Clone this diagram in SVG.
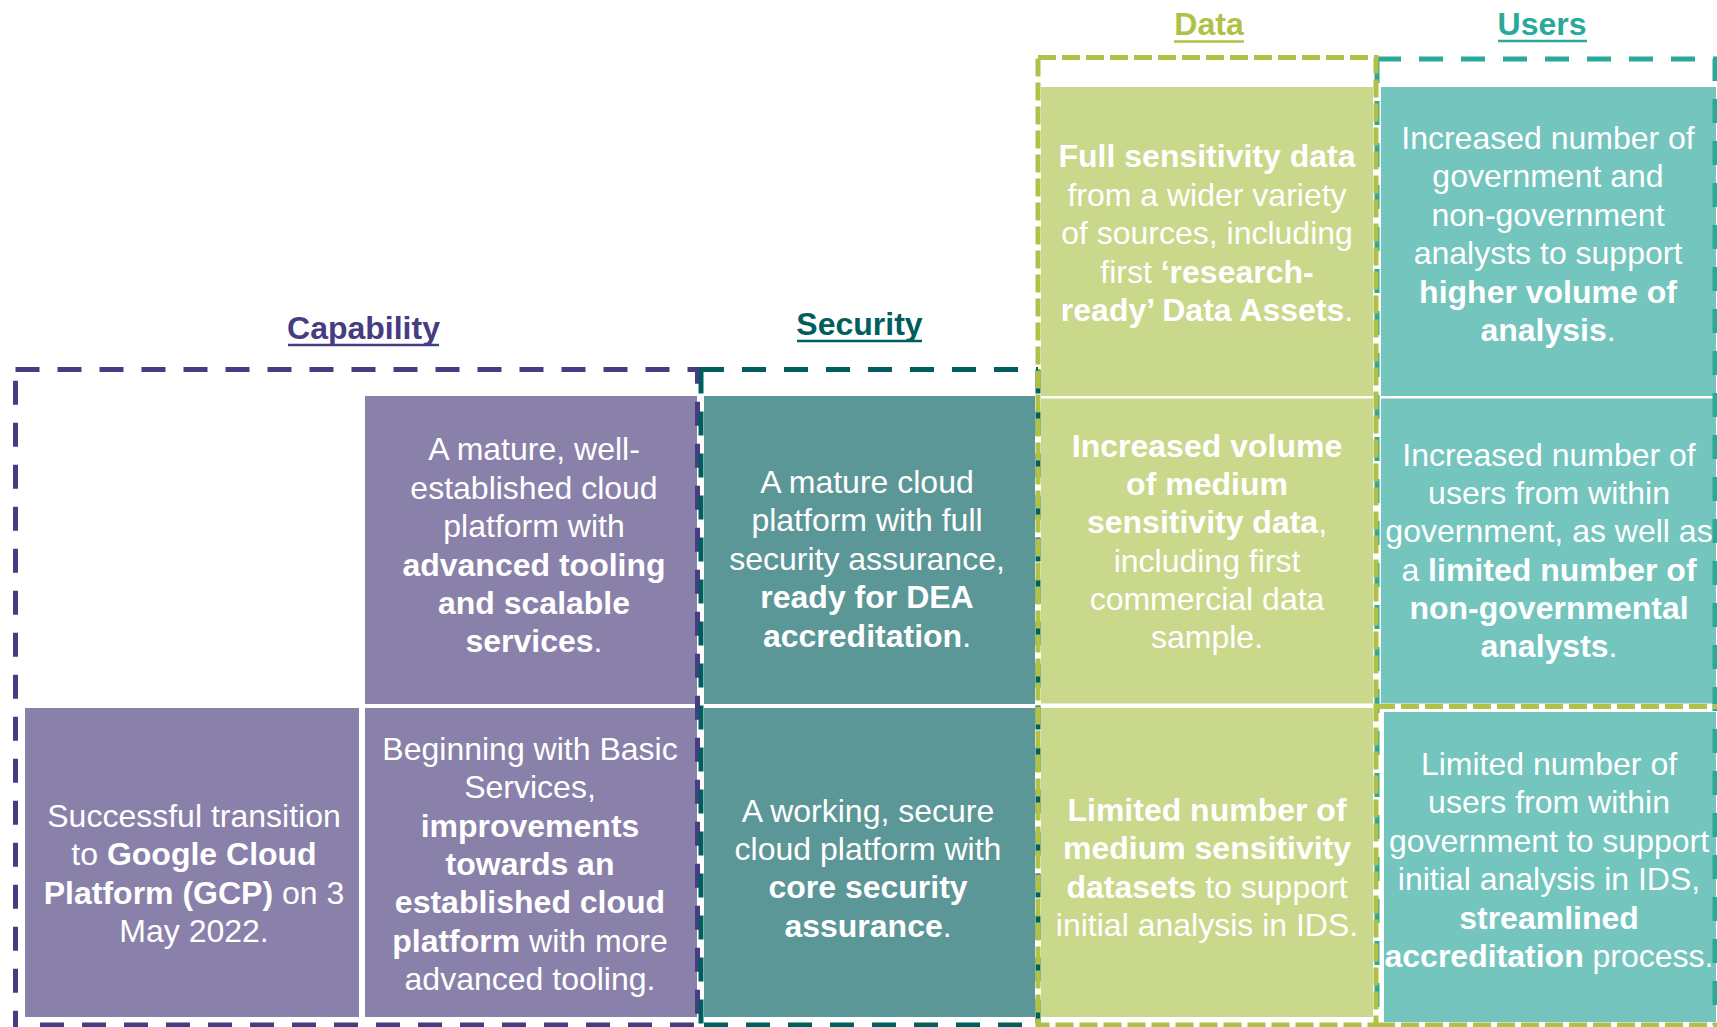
<svg xmlns="http://www.w3.org/2000/svg" width="1717" height="1027" viewBox="0 0 1717 1027">
<style>
  text { font-family: "Liberation Sans", Arial, sans-serif; font-size: 32px; fill: #ffffff; text-anchor: middle; }
  .b { font-weight: bold; }
  .title { font-weight: bold; font-size: 32px; }
  .cap { fill: #8A81AB; }
  .sec { fill: #5C9797; }
  .dat { fill: #CAD88C; }
  .usr { fill: #74C5BE; }
  .dash { fill: none; stroke-width: 5; }
  .dp { stroke: #463C82; stroke-dasharray: 24 18; }
  .ds { stroke: #005E5E; stroke-dasharray: 24 18; }
  .dd { stroke: #AFC146; stroke-dasharray: 18 6; }
  .du { stroke: #2AA89A; stroke-dasharray: 24 18; }
</style>
<rect width="1717" height="1027" fill="#ffffff"/>

<!-- Titles -->
<g id="title-capability">
  <text x="363.5" y="339" class="title" style="fill:#463C82">Capability</text>
  <line x1="288" y1="345" x2="439" y2="345" stroke="#463C82" stroke-width="2.5"/>
</g>
<g id="title-security">
  <text x="859.5" y="335" class="title" style="fill:#005E5E">Security</text>
  <line x1="797" y1="341" x2="922" y2="341" stroke="#005E5E" stroke-width="2.5"/>
</g>
<g id="title-data">
  <text x="1209" y="35" class="title" style="fill:#AFC146">Data</text>
  <line x1="1174" y1="41.5" x2="1244" y2="41.5" stroke="#AFC146" stroke-width="2.5"/>
</g>
<g id="title-users">
  <text x="1542" y="35" class="title" style="fill:#2AA89A">Users</text>
  <line x1="1498" y1="41" x2="1587" y2="41" stroke="#2AA89A" stroke-width="2.5"/>
</g>

<!-- Capability cells -->
<g id="cap-gcp">
  <rect class="cap" x="25" y="708" width="334" height="309"/>
  <text x="194" y="827">Successful transition</text>
  <text x="194" y="865">to <tspan class="b">Google Cloud</tspan></text>
  <text x="194" y="903.5"><tspan class="b">Platform (GCP)</tspan> on 3</text>
  <text x="194" y="942">May 2022.</text>
</g>
<g id="cap-mature">
  <rect class="cap" x="365" y="396" width="332" height="308"/>
  <text x="534" y="460">A mature, well-</text>
  <text x="534" y="498.5">established cloud</text>
  <text x="534" y="537">platform with</text>
  <text x="534" y="575.5" class="b">advanced tooling</text>
  <text x="534" y="614" class="b">and scalable</text>
  <text x="534" y="652"><tspan class="b">services</tspan>.</text>
</g>
<g id="cap-basic">
  <rect class="cap" x="365" y="708" width="332" height="309"/>
  <text x="530" y="760">Beginning with Basic</text>
  <text x="530" y="798.3">Services,</text>
  <text x="530" y="836.7" class="b">improvements</text>
  <text x="530" y="875" class="b">towards an</text>
  <text x="530" y="913.3" class="b">established cloud</text>
  <text x="530" y="951.7"><tspan class="b">platform</tspan> with more</text>
  <text x="530" y="990">advanced tooling.</text>
</g>

<!-- Security cells -->
<g id="sec-mature">
  <rect class="sec" x="704" y="396" width="331" height="308"/>
  <text x="867" y="492.7">A mature cloud</text>
  <text x="867" y="531.2">platform with full</text>
  <text x="867" y="569.7">security assurance,</text>
  <text x="867" y="608.2" class="b">ready for DEA</text>
  <text x="867" y="646.7"><tspan class="b">accreditation</tspan>.</text>
</g>
<g id="sec-working">
  <rect class="sec" x="704" y="708" width="331" height="309"/>
  <text x="868" y="821.7">A working, secure</text>
  <text x="868" y="860">cloud platform with</text>
  <text x="868" y="898.3" class="b">core security</text>
  <text x="868" y="936.7"><tspan class="b">assurance</tspan>.</text>
</g>

<!-- Data cells -->
<g id="data-full">
  <rect class="dat" x="1041" y="87" width="332" height="309"/>
  <text x="1207" y="167" class="b">Full sensitivity data</text>
  <text x="1207" y="205.5">from a wider variety</text>
  <text x="1207" y="244">of sources, including</text>
  <text x="1207" y="282.5">first <tspan class="b">‘research-</tspan></text>
  <text x="1207" y="321"><tspan class="b">ready’ Data Assets</tspan>.</text>
</g>
<g id="data-medium">
  <rect class="dat" x="1041" y="398.5" width="332" height="305"/>
  <text x="1207" y="456.5" class="b">Increased volume</text>
  <text x="1207" y="494.8" class="b">of medium</text>
  <text x="1207" y="533.2"><tspan class="b">sensitivity data</tspan>,</text>
  <text x="1207" y="571.5">including first</text>
  <text x="1207" y="609.9">commercial data</text>
  <text x="1207" y="648.3">sample.</text>
</g>
<g id="data-limited">
  <rect class="dat" x="1041" y="708" width="332" height="309"/>
  <text x="1207" y="820.5" class="b">Limited number of</text>
  <text x="1207" y="859" class="b">medium sensitivity</text>
  <text x="1207" y="897.5"><tspan class="b">datasets</tspan> to support</text>
  <text x="1207" y="936">initial analysis in IDS.</text>
</g>

<!-- Users cells -->
<g id="users-higher">
  <rect class="usr" x="1381" y="87" width="335" height="309"/>
  <text x="1548" y="148.5">Increased number of</text>
  <text x="1548" y="187">government and</text>
  <text x="1548" y="225.5">non-government</text>
  <text x="1548" y="264">analysts to support</text>
  <text x="1548" y="302.5" class="b">higher volume of</text>
  <text x="1548" y="341"><tspan class="b">analysis</tspan>.</text>
</g>
<g id="users-increased">
  <rect class="usr" x="1381" y="398.5" width="335" height="305"/>
  <text x="1549" y="466">Increased number of</text>
  <text x="1549" y="504.2">users from within</text>
  <text x="1549" y="542.4">government, as well as</text>
  <text x="1549" y="580.6">a <tspan class="b">limited number of</tspan></text>
  <text x="1549" y="618.8" class="b">non-governmental</text>
  <text x="1549" y="657"><tspan class="b">analysts</tspan>.</text>
</g>
<g id="users-limited">
  <rect class="usr" x="1384" y="712" width="332" height="310"/>
  <text x="1549" y="775">Limited number of</text>
  <text x="1549" y="813.4">users from within</text>
  <text x="1549" y="851.8">government to support</text>
  <text x="1549" y="890.2">initial analysis in IDS,</text>
  <text x="1549" y="928.6" class="b">streamlined</text>
  <text x="1549" y="967"><tspan class="b">accreditation</tspan> process.</text>
</g>

<!-- Dashed group outlines -->
<g id="connectors">
  <!-- Capability -->
  <line class="dash dp" x1="15.5" y1="369.5" x2="700" y2="369.5"/>
  <line class="dash dp" x1="15.5" y1="380.7" x2="15.5" y2="1027"/>
  <line class="dash dp" x1="697.5" y1="369.5" x2="697.5" y2="1027" stroke-dashoffset="9.8"/>
  <line class="dash dp" x1="40" y1="1025" x2="700" y2="1025"/>
  <!-- Security -->
  <line class="dash ds" x1="700" y1="369.5" x2="1038" y2="369.5"/>
  <line class="dash ds" x1="701" y1="369.5" x2="701" y2="1027"/>
  <line class="dash ds" x1="1038" y1="369.5" x2="1038" y2="1027"/>
  <line class="dash ds" x1="704" y1="1025" x2="1038" y2="1025"/>
  <!-- Users -->
  <path class="dash du" d="M1377,59 H1715 V1025 M1377,59 V1025"/>
  <!-- Data -->
  <rect class="dash dd" x="1038" y="57.5" width="338" height="967.5"/>
  <line class="dash dd" x1="1377" y1="706.5" x2="1717" y2="706.5"/>
  <line class="dash dd" x1="1377" y1="1025" x2="1717" y2="1025"/>
</g>
</svg>
